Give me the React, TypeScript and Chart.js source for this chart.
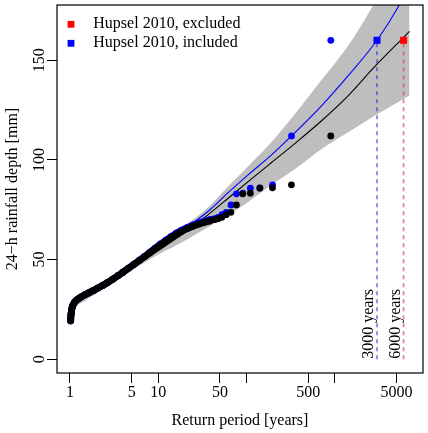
import { useEffect, useRef } from "react";
import { Chart, registerables } from "chart.js";

Chart.register(...registerables);

const FONT = "'Liberation Serif', 'DejaVu Serif', serif";

// Axis ticks
const xTickValues = [1, 5, 10, 50, 100, 500, 1000, 5000];
const xTickLabelled = [1, 5, 10, 50, 500, 5000];
const yTickValues = [0, 50, 100, 150];

// Annual maxima, dense lower part of the series: return period [years] and depth [mm]
const denseT = [
  1.017, 1.022, 1.03, 1.042, 1.06, 1.085, 1.12, 1.17, 1.24, 1.34, 1.47, 1.63,
  1.83, 2.07, 2.35, 2.68, 3.07, 3.5, 4.0, 4.6, 5.3, 6.1, 7.0, 8.0, 9.2, 10.6,
  12.2, 14.0, 16.0, 18.5, 21.5, 25, 29, 33.5, 38.5,
];
const denseDepthExcl = [
  19.3, 21.0, 22.8, 24.5, 26.0, 27.3, 28.4, 29.4, 30.3, 31.3, 32.3, 33.3,
  34.4, 35.7, 37.0, 38.5, 40.2, 41.9, 43.7, 45.6, 47.5, 49.5, 51.4, 53.3,
  55.3, 57.3, 59.2, 61.0, 62.6, 64.2, 65.6, 66.8, 67.8, 68.7, 69.4,
];
const denseDepthIncl = [
  19.3, 21.0, 22.8, 24.5, 26.0, 27.3, 28.4, 29.4, 30.3, 31.3, 32.3, 33.3,
  34.4, 35.7, 37.0, 38.5, 40.2, 41.9, 43.7, 45.6, 47.6, 49.6, 51.6, 53.6,
  55.7, 57.8, 59.7, 61.5, 63.2, 64.8, 66.2, 67.4, 68.4, 69.3, 70.0,
];

// Largest annual maxima, Hupsel 2010 excluded
const topT = [898, 322.5, 196.5, 141.3, 110.3, 90.5, 76.7, 66.5, 58.8, 52.6, 47.6, 43.5];
const topDepth = [112, 87.5, 86, 85.8, 83.3, 83, 77.4, 73.7, 72.5, 71.2, 70.5, 70];

// Largest annual maxima, Hupsel 2010 included
const topInclT = [900, 323, 197, 141.6, 110.5, 90.7, 76.8, 66.7, 58.9, 52.7, 47.7, 43.6, 39.8];
const topInclDepth = [160, 112, 87.5, 86, 85.8, 83.3, 83, 77.4, 73.7, 72.5, 71.2, 70.5, 70];

// Fitted return level curves
const fitExclT = [1.017, 1.1, 1.5, 2, 3, 5, 10, 20, 37.4, 62.8, 105, 192, 352, 702, 1400, 2790, 6000, 7000];
const fitExclDepth = [19, 25.5, 31, 35, 40, 46, 54.5, 63.5, 72.8, 81, 89.2, 98.7, 108.2, 119.5, 132, 146.5, 161.5, 164.5];
const fitInclT = [1.017, 1.1, 1.5, 2, 3, 5, 10, 20, 37.4, 62.8, 105, 192, 323, 702, 1400, 3000, 5240, 7000];
const fitInclDepth = [19.5, 26, 31.5, 35.5, 40.5, 47, 56, 65.5, 74.5, 83.8, 92.6, 102.5, 112, 127, 142, 160, 177, 188];

// Confidence band of the fit without 2010
const bandT = [1.017, 1.1, 1.5, 2, 3, 5, 10, 20, 37.4, 62.8, 105, 192, 352, 702, 1400, 2790, 5000, 7000];
const bandUpper = [22, 27.5, 33, 36.5, 41.5, 47.5, 57, 67, 76.5, 87, 97, 109, 123, 140, 157, 178.5, 200, 212];
const bandLower = [18.5, 24, 29.5, 33, 38.5, 44.5, 52.5, 59.5, 66.5, 72.5, 79, 87.5, 95.3, 105.3, 113.7, 122, 128.5, 132.3];

// The 2010 Hupsel event and its return periods
const eventDepth = 160;
const eventTExcluded = 6000;
const eventTIncluded = 3000;
const eventLabels = ["6000 years", "3000 years"];

const legendLabels = ["Hupsel 2010, excluded", "Hupsel 2010, included"];
const legendColors = ["#ff0000", "#0000ff"];

const pts = (xs: number[], ys: number[]) => xs.map((x, i) => ({ x, y: ys[i] }));

const decorPlugin = {
  id: "decor",
  afterDraw(chart: any) {
    const { ctx, chartArea, scales } = chart;
    const xs = scales.x;
    const ys = scales.y;
    ctx.save();
    // plot frame
    ctx.strokeStyle = "#000";
    ctx.lineWidth = 1.2;
    ctx.strokeRect(chartArea.left, chartArea.top, chartArea.right - chartArea.left, chartArea.bottom - chartArea.top);

    ctx.fillStyle = "#000";
    ctx.font = `16px ${FONT}`;
    // y tick labels, written upwards
    ctx.textAlign = "center";
    ctx.textBaseline = "alphabetic";
    yTickValues.forEach((v) => {
      const py = ys.getPixelForValue(v);
      ctx.save();
      ctx.translate(chartArea.left - 13.5, py);
      ctx.rotate(-Math.PI / 2);
      ctx.fillText(String(v), 0, 0);
      ctx.restore();
    });

    // return period annotations beside the dashed lines
    const y0 = ys.getPixelForValue(0);
    [eventTExcluded, eventTIncluded].forEach((t, i) => {
      const px = xs.getPixelForValue(t);
      ctx.save();
      ctx.translate(px - 3.8, y0 - 0.5);
      ctx.rotate(-Math.PI / 2);
      ctx.textAlign = "left";
      ctx.fillText(eventLabels[i], 0, 0);
      ctx.restore();
    });

    // legend
    const rowY = [24.3, 43.3];
    legendLabels.forEach((label, i) => {
      ctx.fillStyle = legendColors[i];
      ctx.fillRect(71 - 3.4, rowY[i] - 3.4, 6.8, 6.8);
      ctx.fillStyle = "#000";
      ctx.textAlign = "left";
      ctx.fillText(label, 93.3, rowY[i] + 3.9);
    });
    ctx.restore();
  },
};

export default function App() {
  const ref = useRef<HTMLCanvasElement>(null);

  useEffect(() => {
    document.body.style.margin = "0";
    const canvas = ref.current;
    if (!canvas) return;

    const dot = (color: string, r: number) => ({
      pointRadius: r,
      pointHoverRadius: r,
      pointBackgroundColor: color,
      pointBorderWidth: 0,
      borderColor: color,
    });

    const chart = new Chart(canvas, {
      type: "scatter",
      data: {
        datasets: [
          {
            label: "band upper",
            data: pts(bandT, bandUpper),
            showLine: true,
            borderWidth: 0,
            borderColor: "rgba(0,0,0,0)",
            pointRadius: 0,
            backgroundColor: "#bebebe",
            fill: "+1",
            cubicInterpolationMode: "monotone",
            order: 20,
          },
          {
            label: "band lower",
            data: pts(bandT, bandLower),
            showLine: true,
            borderWidth: 0,
            borderColor: "rgba(0,0,0,0)",
            pointRadius: 0,
            fill: false,
            cubicInterpolationMode: "monotone",
            order: 21,
          },
          {
            label: "included dashed",
            data: pts([eventTIncluded, eventTIncluded], [0, eventDepth]),
            showLine: true,
            borderColor: "rgba(40,40,230,0.65)",
            borderWidth: 1.6,
            borderDash: [4, 4],
            pointRadius: 0,
            order: 12,
          },
          {
            label: "excluded dashed",
            data: pts([eventTExcluded, eventTExcluded], [0, eventDepth]),
            showLine: true,
            borderColor: "rgba(240,50,50,0.7)",
            borderWidth: 1.6,
            borderDash: [4, 4],
            pointRadius: 0,
            order: 11,
          },
          {
            label: "fit included",
            data: pts(fitInclT, fitInclDepth),
            showLine: true,
            borderColor: "#0000ff",
            borderWidth: 1.1,
            pointRadius: 0,
            cubicInterpolationMode: "monotone",
            order: 10,
          },
          {
            label: "fit excluded",
            data: pts(fitExclT, fitExclDepth),
            showLine: true,
            borderColor: "#000000",
            borderWidth: 1.1,
            pointRadius: 0,
            cubicInterpolationMode: "monotone",
            order: 9,
          },
          {
            label: "maxima included",
            data: pts(topInclT, topInclDepth),
            showLine: false,
            ...dot("#0000ff", 3.4),
            order: 8,
          },
          {
            label: "maxima included dense",
            data: pts(denseT, denseDepthIncl),
            showLine: true,
            borderWidth: 6.8,
            borderCapStyle: "round",
            borderJoinStyle: "round",
            ...dot("#0000ff", 3.4),
            order: 7,
          },
          {
            label: "maxima excluded",
            data: pts(topT, topDepth),
            showLine: false,
            ...dot("#000000", 3.4),
            order: 6,
          },
          {
            label: "maxima excluded dense",
            data: pts(denseT, denseDepthExcl),
            showLine: true,
            borderWidth: 6.8,
            borderCapStyle: "round",
            borderJoinStyle: "round",
            ...dot("#000000", 3.4),
            order: 5,
          },
          {
            label: legendLabels[1],
            data: pts([eventTIncluded], [eventDepth]),
            pointStyle: "rect",
            ...dot("#0000ff", 5),
            order: 2,
          },
          {
            label: legendLabels[0],
            data: pts([eventTExcluded], [eventDepth]),
            pointStyle: "rect",
            ...dot("#ff0000", 5),
            order: 1,
          },
        ],
      },
      options: {
        animation: false,
        responsive: false,
        events: [],
        layout: { padding: { left: 0, right: 3, top: 4, bottom: 0 } },
        plugins: {
          legend: { display: false },
          tooltip: { enabled: false },
        },
        scales: {
          x: {
            type: "logarithmic",
            min: 0.714,
            max: 9954,
            bounds: "data",
            afterBuildTicks: (s: any) => {
              s.ticks = xTickValues.map((v) => ({ value: v }));
            },
            afterFit: (s: any) => {
              s.height = 60;
            },
            grid: {
              drawOnChartArea: false,
              drawTicks: true,
              tickLength: 10,
              color: "#000",
              tickColor: "#000",
              lineWidth: 1,
            },
            border: { display: false },
            ticks: {
              autoSkip: false,
              maxRotation: 0,
              minRotation: 0,
              padding: 0,
              color: "#000",
              font: { family: FONT, size: 16 },
              callback: (v: any) => (xTickLabelled.includes(Number(v)) ? String(v) : ""),
            },
            title: {
              display: true,
              text: "Return period [years]",
              color: "#000",
              font: { family: FONT, size: 16 },
              padding: { top: 0, bottom: 2.5 },
            },
          },
          y: {
            type: "linear",
            min: -6.9,
            max: 177.7,
            afterBuildTicks: (s: any) => {
              s.ticks = yTickValues.map((v) => ({ value: v }));
            },
            afterFit: (s: any) => {
              s.width = 57;
            },
            grid: {
              drawOnChartArea: false,
              drawTicks: true,
              tickLength: 10,
              color: "#000",
              tickColor: "#000",
              lineWidth: 1,
            },
            border: { display: false },
            ticks: { display: false },
            title: {
              display: true,
              text: "24−h rainfall depth [mm]",
              color: "#000",
              font: { family: FONT, size: 16 },
              padding: { top: 3, bottom: 0 },
            },
          },
        },
      } as any,
      plugins: [decorPlugin],
    });

    return () => chart.destroy();
  }, []);

  return (
    <div style={{ width: 428, height: 433, background: "#fff" }}>
      <canvas ref={ref} width={428} height={433} style={{ display: "block" }} />
    </div>
  );
}
